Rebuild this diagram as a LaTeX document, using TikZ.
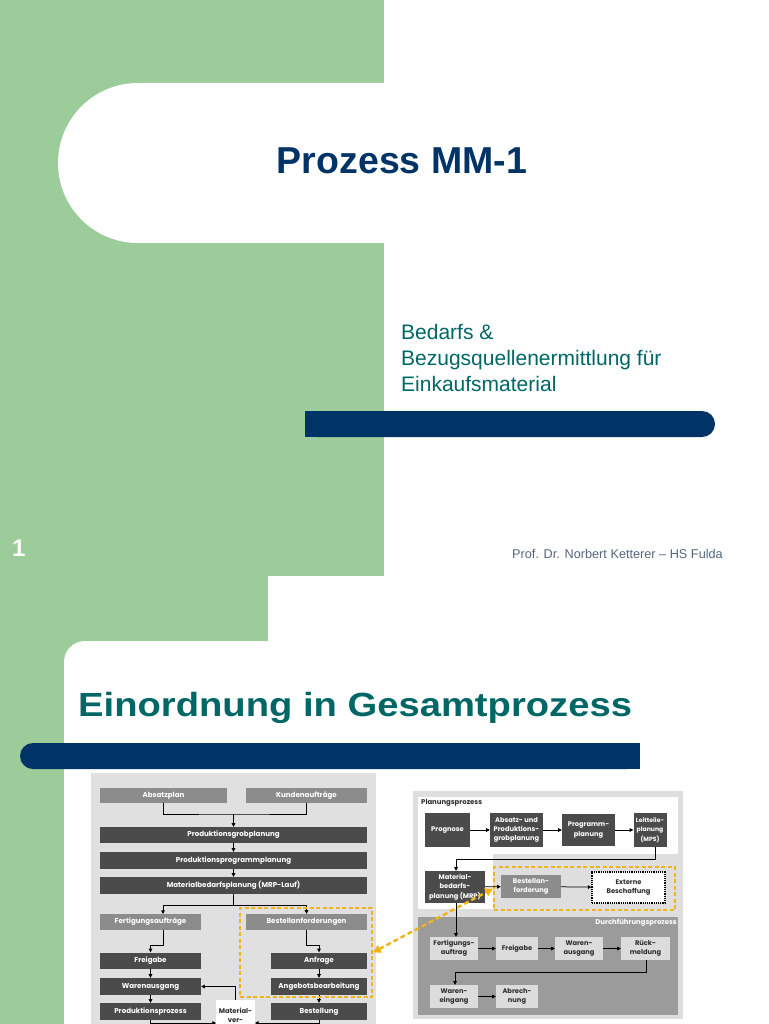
\documentclass[tikz,border=0pt]{standalone}
\usepackage{fontspec}
\setmainfont{Liberation Sans}
\newfontfamily\gfont{Poppins}
\usetikzlibrary{arrows.meta}
\definecolor{grn}{RGB}{155,204,153}
\definecolor{navy}{RGB}{0,51,102}
\definecolor{teal2}{RGB}{0,102,102}
\definecolor{profc}{RGB}{85,102,128}
\definecolor{dk}{RGB}{75,75,75}
\definecolor{md}{RGB}{140,140,140}
\definecolor{lt}{RGB}{220,220,220}
\definecolor{lbg}{RGB}{224,224,224}
\definecolor{gbord}{RGB}{222,222,222}
\definecolor{durch}{RGB}{155,155,155}
\definecolor{txtdk}{RGB}{45,45,45}
\definecolor{ylw}{RGB}{240,180,30}
\tikzset{
  lbox/.style={inner sep=0pt, font=\gfont\bfseries\fontsize{7.1}{8}\selectfont, text=white},
  ldk/.style={lbox, fill=dk},
  lmd/.style={lbox, fill=md},
  rbox/.style={inner sep=0pt, align=center, font=\gfont\bfseries\fontsize{6.7}{9.4}\selectfont},
  rdk/.style={rbox, fill=dk, text=white},
  rlt/.style={rbox, fill=lt, text=txtdk},
  arr/.style={-{Triangle[length=3.6pt,width=3.6pt]}, line width=0.75pt, black},
  ln/.style={line width=0.75pt, black},
  ybox/.style={draw=ylw, dash pattern=on 4pt off 2.5pt, line width=1.5pt, inner sep=0pt},
  yarr/.style={draw=ylw, dash pattern=on 5pt off 3pt, line width=2.4pt, {Triangle[length=8pt,width=8pt]}-{Triangle[length=8pt,width=8pt]}},
}
\begin{document}
\begin{tikzpicture}[x=1pt,y=-1pt]
\useasboundingbox (0,0) rectangle (768,1024);
\clip (0,0) rectangle (768,1024);
\fill[white] (0,0) rectangle (768,1024);
% ---------- slide 1 ----------
\fill[grn] (0,0) rectangle (384,576);
\fill[white, rounded corners=80pt] (58,83) rectangle (620,243);
\fill[navy, rounded corners=13pt] (305,411) rectangle (715,437);
\fill[navy] (305,411) rectangle (340,437);
\node[text=navy, font=\bfseries\fontsize{37.5}{40}\selectfont] (t1) at (402,161) {Prozess MM-1};
\node[text=teal2, anchor=base west, font=\fontsize{21}{24}\selectfont, inner sep=0pt] (s1) at (401,339) {Bedarfs \&};
\node[text=teal2, anchor=base west, font=\fontsize{21}{24}\selectfont, inner sep=0pt] (s2) at (401,365) {Bezugsquellenermittlung für};
\node[text=teal2, anchor=base west, font=\fontsize{21}{24}\selectfont, inner sep=0pt] (s3) at (401,391) {Einkaufsmaterial};
\node[text=white, anchor=base west, font=\bfseries\fontsize{24}{26}\selectfont, inner sep=0pt] (pg) at (12,556) {1};
\node[text=profc, anchor=base west, font=\fontsize{12.7}{14}\selectfont, inner sep=0pt] (prof) at (512,558) {Prof. Dr. Norbert Ketterer – HS Fulda};
% ---------- slide 2 ----------
\fill[grn] (0,576) rectangle (268,1024);
\fill[white, rounded corners=21pt] (64,641) rectangle (820,1080);
\fill[navy, rounded corners=13pt] (20,743) rectangle (640,769);
\fill[navy] (600,743) rectangle (640,769);
\node[text=teal2, anchor=base west, inner sep=0pt, font=\bfseries\fontsize{33.5}{36}\selectfont] (t2) at (78,716) {\scalebox{1.14}[1]{Einordnung in Gesamtprozess}};
% ---------- left diagram ----------
\fill[lbg] (91,773) rectangle (376,1030);
\node[lmd, minimum width=127pt, minimum height=15pt] (abs) at (163.5,795.5) {Absatzplan};
\node[lmd, minimum width=121pt, minimum height=15pt] (kun) at (306.5,795.5) {Kundenaufträge};
\node[ldk, minimum width=267pt, minimum height=16pt] (pgp) at (233.5,835) {Produktionsgrobplanung};
\node[ldk, minimum width=267pt, minimum height=17pt] (ppp) at (233.5,860.5) {Produktionsprogrammplanung};
\node[ldk, minimum width=267pt, minimum height=17pt] (mrp) at (233.5,885.5) {Materialbedarfsplanung (MRP-Lauf)};
\node[lmd, minimum width=101pt, minimum height=16pt] (fert) at (150.5,922) {Fertigungsaufträge};
\node[lmd, minimum width=121pt, minimum height=16pt] (bestanf) at (306.5,922) {Bestellanforderungen};
\node[ldk, minimum width=101pt, minimum height=16pt] (frei) at (150.5,960.5) {Freigabe};
\node[ldk, minimum width=101pt, minimum height=17pt] (waus) at (150.5,986.5) {Warenausgang};
\node[ldk, minimum width=101pt, minimum height=17pt] (prod) at (150.5,1011.5) {Produktionsprozess};
\node[ldk, minimum width=96pt, minimum height=16pt] (anf) at (319,960.5) {Anfrage};
\node[ldk, minimum width=96pt, minimum height=17pt] (ang) at (319,986.5) {Angebotsbearbeitung};
\node[ldk, minimum width=96pt, minimum height=17pt] (best) at (319,1011.5) {Bestellung};
\node[fill=white, text=txtdk, anchor=north, minimum width=39pt, minimum height=30pt, inner ysep=3.5pt, inner xsep=0pt, align=center, font=\gfont\bfseries\fontsize{6.8}{9.5}\selectfont] (mat) at (235.5,1000) {Material-\\ver-};
\coordinate (j1) at (233.5,814);
\draw[ln] (abs.south) |- (j1) -| (kun.south);
\draw[arr] (j1) -- (pgp.north);
\draw[arr] (pgp) -- (ppp);
\draw[arr] (ppp) -- (mrp);
\coordinate (j2) at (233.5,905);
\coordinate (fertin) at (163,914);
\draw[ln] (mrp.south) -- (j2);
\draw[arr] (j2) -| (fertin);
\draw[arr] (j2) -| (bestanf.north);
\coordinate (fertout) at (163,930);
\coordinate (jf) at (150.5,945);
\draw[arr] (fertout) |- (jf) -- (frei.north);
\coordinate (jb) at (319,945);
\draw[arr] (bestanf.south) |- (jb) -- (anf.north);
\draw[arr] (frei) -- (waus);
\draw[arr] (waus) -- (prod);
\draw[arr] (anf) -- (ang);
\draw[arr] (ang) -- (best);
\draw[arr] (mat.north) |- (waus.east);
\coordinate (mw) at (216,1023);
\coordinate (me) at (255,1023);
\draw[arr] (prod.south) |- (mw);
\draw[arr] (best.south) |- (me);
\node[ybox, minimum width=132pt, minimum height=89pt] (yl) at (306,952.5) {};
% ---------- right diagram ----------
\fill[gbord] (413,791) rectangle (683,1019);
\fill[white] (418,797) rectangle (678,854);
\fill[white] (418,853) rectangle (493,909);
\fill[durch] (418,917) rectangle (678,1015);
\node[anchor=west, inner sep=0pt, text=txtdk, font=\gfont\bfseries\fontsize{6.9}{7}\selectfont] (plab) at (421,802.5) {Planungsprozess};
\node[anchor=east, inner sep=0pt, text=white, font=\gfont\bfseries\fontsize{6.9}{7}\selectfont] (dlab) at (677,922.5) {Durchführungsprozess};
\node[rdk, minimum width=45pt, minimum height=34pt] (prog) at (447.5,830) {Prognose};
\node[rdk, minimum width=53pt, minimum height=34pt] (absp) at (516.5,830) {Absatz- und\\Produktions-\\grobplanung};
\node[rdk, minimum width=53pt, minimum height=32pt] (progp) at (588.5,830) {Programm-\\planung};
\node[rdk, minimum width=33pt, minimum height=34pt, font=\gfont\bfseries\fontsize{6.1}{9.4}\selectfont] (leit) at (650,830) {Leitteile-\\planung\\(MPS)};
\node[rdk, minimum width=60pt, minimum height=32pt] (mrpr) at (455,887) {Material-\\bedarfs-\\planung (MRP)};
\node[rbox, fill=md, text=white, minimum width=60pt, minimum height=23pt] (bestan) at (531,886.5) {Bestellan-\\forderung};
\node[rbox, fill=white, text=txtdk, draw=black, densely dotted, line width=1.2pt, minimum width=73pt, minimum height=31pt] (ext) at (628.5,887.5) {Externe\\Beschaffung};
\node[ybox, minimum width=181pt, minimum height=43pt] (yr) at (584.5,888.5) {};
\node[rlt, minimum width=48pt, minimum height=23pt] (fa) at (454,948.5) {Fertigungs-\\auftrag};
\node[rlt, minimum width=42pt, minimum height=23pt] (fr) at (517,948.5) {Freigabe};
\node[rlt, minimum width=48pt, minimum height=23pt] (wa) at (579,948.5) {Waren-\\ausgang};
\node[rlt, minimum width=49pt, minimum height=23pt] (rm) at (645.5,948.5) {Rück-\\meldung};
\node[rlt, minimum width=48pt, minimum height=23pt] (we) at (454,996.5) {Waren-\\eingang};
\node[rlt, minimum width=42pt, minimum height=23pt] (ab) at (517,996.5) {Abrech-\\nung};
\draw[arr] (prog) -- (absp);
\draw[arr] (absp) -- (progp);
\draw[arr] (progp) -- (leit);
\coordinate (k1) at (655,859);
\coordinate (k2) at (456,859);
\draw[arr] (leit.south -| k1) -- (k1) -- (k2) -- (mrpr.north -| k2);
\draw[arr] (mrpr) -- (bestan);
\draw[arr] (bestan) -- (ext);
\draw[arr] (mrpr.south -| k2) -- (fa.north -| k2);
\draw[arr] (fa) -- (fr);
\draw[arr] (fr) -- (wa);
\draw[arr] (wa) -- (rm);
\coordinate (k3) at (646,972);
\coordinate (k4) at (455,972);
\draw[arr] (rm.south -| k3) -- (k3) -- (k4) -- (we.north -| k4);
\draw[arr] (we) -- (ab);
% ---------- yellow link ----------
\draw[yarr] (yl.east) -- (yr.west);
\end{tikzpicture}
\end{document}
